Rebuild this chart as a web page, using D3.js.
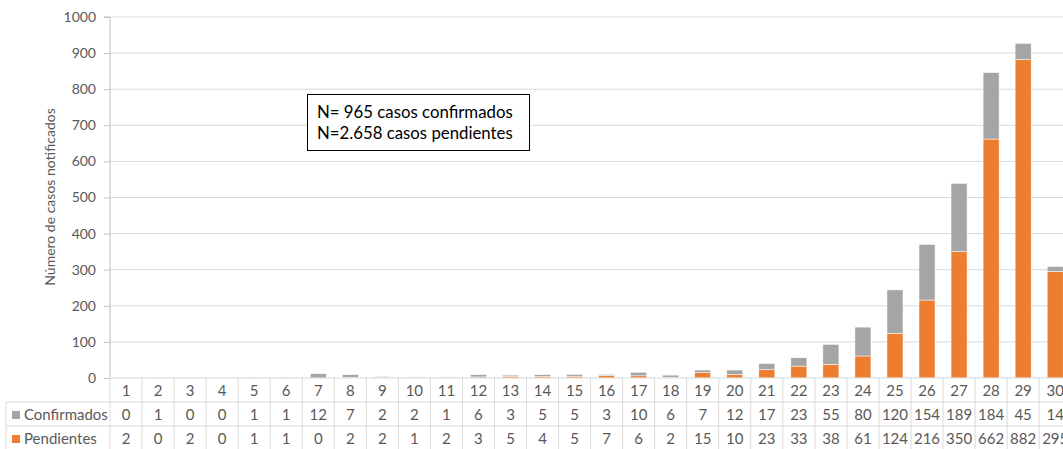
<!DOCTYPE html>
<html><head><meta charset="utf-8">
<script src="https://cdn.jsdelivr.net/npm/d3@7/dist/d3.min.js"></script>
<style>
body{margin:0;background:#fff;overflow:hidden}
text{font-family:Lato,"Open Sans",sans-serif;fill:#595959}
</style></head><body>
<svg id="c" width="1063" height="449"></svg>
<script>
const categories = d3.range(1,31).map(String);
const confirmados = [0,1,0,0,1,1,12,7,2,2,1,6,3,5,5,3,10,6,7,12,17,23,55,80,120,154,189,184,45,14];
const pendientes  = [2,0,2,0,1,1,0,2,2,1,2,3,5,4,5,7,6,2,15,10,23,33,38,61,124,216,350,662,882,295];
const yTicks = d3.range(0,1001,100);
const seriesNames = ["Confirmados","Pendientes"];
const colors = {Confirmados:"#A5A5A5", Pendientes:"#ED7D31"};
const yTitle = "Número de casos notificados";
const note = ["N= 965 casos confirmados","N=2.658 casos pendientes"];

(function(){
const svg = d3.select("#c");
const mLeft = 110, mTop = 17, mBottom = 378;
const bandW = 32.04;
const x = d3.scaleBand().domain(categories).range([mLeft, mLeft + bandW*categories.length]).paddingInner(0.5).paddingOuter(0.25);
const xb = d3.scaleBand().domain(categories).range([mLeft, mLeft + bandW*categories.length]);
const y = d3.scaleLinear().domain([0,1000]).range([mBottom, mTop]);

svg.append("g").selectAll("line").data(yTicks.filter(d=>d>0)).join("line")
  .attr("x1",mLeft).attr("x2",1100).attr("y1",d=>y(d)).attr("y2",d=>y(d))
  .attr("stroke","#D9D9D9").attr("stroke-width",1);

const yAxis = d3.axisLeft(y).tickValues(yTicks).tickFormat(d3.format("d")).tickSize(6).tickPadding(8);
const ga = svg.append("g").attr("transform",`translate(${mLeft},0)`).call(yAxis);
ga.select(".domain").attr("stroke","#BFBFBF").attr("d",`M-6,${mTop}H0V${mBottom}`);
ga.selectAll(".tick line").attr("stroke","#BFBFBF");
ga.selectAll(".tick text").style("font-family","Lato, sans-serif").style("font-size","14px").attr("fill","#595959");

svg.append("text").attr("transform",`translate(55,197) rotate(-90)`).attr("text-anchor","middle")
  .style("font-size","14px").text(yTitle);

const data = categories.map((c,i)=>({cat:c, Pendientes:pendientes[i], Confirmados:confirmados[i]}));
const stack = d3.stack().keys(["Pendientes","Confirmados"])(data);
svg.append("g").selectAll("g").data(stack).join("g").attr("fill",s=>colors[s.key])
  .selectAll("rect").data(s=>s).join("rect")
  .attr("x",d=>x(d.data.cat)).attr("width",x.bandwidth())
  .attr("y",d=>y(d[1])).attr("height",d=>y(d[0])-y(d[1]))
  .attr("stroke","#fff").attr("stroke-width",0.5);

svg.append("line").attr("x1",mLeft).attr("x2",1100).attr("y1",mBottom).attr("y2",mBottom).attr("stroke","#D9D9D9").attr("stroke-width",1.2);

const rowH = 24;
const rowTop = [mBottom, mBottom+rowH, mBottom+2*rowH];
const tbl = svg.append("g");
const lc = "#D9D9D9";
tbl.append("line").attr("x1",6).attr("x2",1100).attr("y1",rowTop[1]).attr("y2",rowTop[1]).attr("stroke",lc);
tbl.append("line").attr("x1",6).attr("x2",1100).attr("y1",rowTop[2]).attr("y2",rowTop[2]).attr("stroke",lc);
tbl.selectAll("line.v").data(categories).join("line").attr("class","v")
  .attr("x1",d=>xb(d)).attr("x2",d=>xb(d)).attr("y1",mBottom).attr("y2",449).attr("stroke",lc);
tbl.append("line").attr("x1",6).attr("x2",6).attr("y1",rowTop[1]).attr("y2",449).attr("stroke",lc);
tbl.selectAll("text.cat").data(categories).join("text").attr("class","cat")
  .attr("x",d=>xb(d)+xb.bandwidth()/2).attr("y",rowTop[0]+17.5).attr("text-anchor","middle")
  .style("font-size","15px").text(d=>d);
const rows = [confirmados, pendientes];
rows.forEach((vals,r)=>{
  tbl.append("g").selectAll("text").data(vals).join("text")
    .attr("x",(d,i)=>xb(categories[i])+xb.bandwidth()/2).attr("y",rowTop[r+1]+17.5).attr("text-anchor","middle")
    .style("font-size","15px").text(d=>d);
  tbl.append("rect").attr("x",12).attr("y",rowTop[r+1]+9).attr("width",8).attr("height",8).attr("fill",colors[seriesNames[r]]);
  tbl.append("text").attr("x",24).attr("y",rowTop[r+1]+17.5).style("font-size","15px").text(seriesNames[r]);
});

const nb = svg.append("g");
nb.append("rect").attr("x",307.5).attr("y",94.5).attr("width",222).attr("height",56).attr("fill","#fff").attr("stroke","#000").attr("stroke-width",1);
nb.selectAll("text").data(note).join("text").attr("x",317).attr("y",(d,i)=>118+i*21)
  .style("font-size","16.8px").style("fill","#000").text(d=>d);
})();
</script></body></html>
